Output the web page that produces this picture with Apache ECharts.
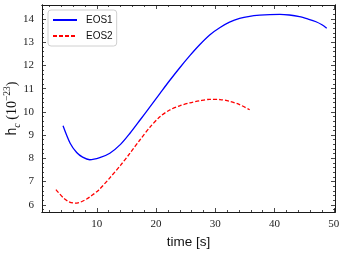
<!DOCTYPE html>
<html><head><meta charset="utf-8">
<script src="https://cdn.jsdelivr.net/npm/echarts@6/dist/echarts.min.js"></script>
<style>html,body{margin:0;padding:0;background:#fff}#c{width:346px;height:253px}</style>
</head><body><div id="c"></div>
<script>
// EOS1 (blue solid)
const eos1Time = [4.3, 5.5, 6.6, 7.6, 8.8, 10.5, 12.2, 14.0, 15.6, 17.3, 19.0, 20.7, 22.3, 24.0, 25.7, 27.4, 29.1, 30.8, 32.4, 34.1, 35.8, 37.5, 39.2, 40.9, 42.5, 44.2, 45.6, 47.0, 48.0, 48.8];
const eos1Hc   = [9.40, 8.65, 8.25, 8.05, 7.94, 8.03, 8.22, 8.60, 9.08, 9.65, 10.23, 10.81, 11.35, 11.90, 12.42, 12.90, 13.32, 13.63, 13.86, 14.02, 14.11, 14.16, 14.19, 14.20, 14.17, 14.10, 14.00, 13.88, 13.75, 13.60];
// EOS2 (red dashed)
const eos2Time = [3.1, 4.4, 5.3, 6.35, 7.3, 8.3, 9.0, 10.3, 12.2, 14.0, 15.6, 17.3, 19.0, 20.7, 22.3, 24.0, 25.7, 27.4, 29.1, 30.8, 32.4, 34.1, 35.8];
const eos2Hc   = [6.65, 6.29, 6.13, 6.07, 6.12, 6.25, 6.37, 6.63, 7.16, 7.70, 8.22, 8.80, 9.35, 9.80, 10.08, 10.26, 10.39, 10.48, 10.54, 10.53, 10.46, 10.31, 10.09];

const xTickLabels = [10, 20, 30, 40, 50];
const yTickLabels = [6, 7, 8, 9, 10, 11, 12, 13, 14];
const xRange = [0.75, 50.2];
const yRange = [5.69, 14.6];

const xMinor = []; for (let v = 2; v <= 50; v += 2) if (v % 10) xMinor.push(v);
const yMinor = []; for (let i = 29; i <= 73; i++) { if (i % 5) yMinor.push(+(i * 0.2).toFixed(1)); }

const lineC = '#1a1a1a';
const tickFont = { fontFamily: 'Liberation Serif', fontSize: 11, color: '#222' };

function xAx(pos, ticks, len, showLabel) {
  return {
    type: 'value', position: pos, min: xRange[0], max: xRange[1],
    axisLine: { show: true, onZero: false, lineStyle: { color: lineC, width: 1 } },
    axisTick: { show: true, inside: true, length: len, customValues: ticks, lineStyle: { color: lineC, width: 0.8 } },
    axisLabel: showLabel ? Object.assign({ show: true, margin: 7, customValues: ticks }, tickFont) : { show: false },
    splitLine: { show: false },
    name: showLabel ? 'time [s]' : '', nameLocation: 'middle', nameGap: 22,
    nameTextStyle: { fontFamily: 'Liberation Sans', fontSize: 13.5, color: '#111' }
  };
}
function yAx(pos, ticks, len, showLabel) {
  return {
    type: 'value', position: pos, min: yRange[0], max: yRange[1],
    axisLine: { show: true, onZero: false, lineStyle: { color: lineC, width: 1 } },
    axisTick: { show: true, inside: true, length: len, customValues: ticks, lineStyle: { color: lineC, width: 0.8 } },
    axisLabel: showLabel ? Object.assign({ show: true, margin: 8, customValues: ticks }, tickFont) : { show: false },
    splitLine: { show: false },
    name: showLabel ? '{h|h}{c|c}{p| (10}{s|−23}{p|)}' : '',
    nameLocation: 'middle', nameGap: 20, nameRotate: 90, nameMoveOverlap: false,
    nameTextStyle: {
      color: '#111',
      rich: {
        h: { fontFamily: 'Liberation Sans', fontSize: 14, lineHeight: 20, verticalAlign: 'middle', color: '#111' },
        c: { fontFamily: 'Liberation Serif', fontStyle: 'italic', fontSize: 10, lineHeight: 20, verticalAlign: 'bottom', color: '#111' },
        p: { fontFamily: 'Liberation Serif', fontSize: 14, lineHeight: 20, verticalAlign: 'middle', color: '#111' },
        s: { fontFamily: 'Liberation Serif', fontSize: 9.5, lineHeight: 20, verticalAlign: 'top', color: '#111' }
      }
    }
  };
}

const chart = echarts.init(document.getElementById('c'), null, { renderer: 'canvas' });
chart.setOption({
  backgroundColor: '#fff',
  animation: false,
  grid: { left: 42, right: 11, top: 5, bottom: 41, containLabel: false, outerBoundsMode: 'none' },
  legend: {
    left: 48, top: 10, orient: 'vertical',
    data: ['EOS1', 'EOS2'],
    itemWidth: 24, itemHeight: 10, itemGap: 6,
    padding: [5, 4, 5, 4],
    itemStyle: { opacity: 0 },
    borderColor: '#d0d0d0', borderWidth: 1, borderRadius: 3, backgroundColor: '#fff',
    textStyle: { fontFamily: 'Liberation Sans', fontSize: 10, color: '#111', padding: [0, 0, 0, 4] }
  },
  xAxis: [
    xAx('bottom', xTickLabels, 4, true),
    xAx('bottom', xMinor, 2, false),
    xAx('top', xTickLabels, 4, false),
    xAx('top', xMinor, 2, false)
  ],
  yAxis: [
    yAx('left', yTickLabels, 4, true),
    yAx('left', yMinor, 2, false),
    yAx('right', yTickLabels, 4, false),
    yAx('right', yMinor, 2, false)
  ],
  series: [
    {
      name: 'EOS1', type: 'line', xAxisIndex: 0, yAxisIndex: 0,
      data: eos1Time.map((t, i) => [t, eos1Hc[i]]),
      smooth: 0.3, showSymbol: false, symbol: 'none',
      lineStyle: { color: '#0000ff', width: 1.3 }, itemStyle: { color: '#0000ff' }
    },
    {
      name: 'EOS2', type: 'line', xAxisIndex: 0, yAxisIndex: 0,
      data: eos2Time.map((t, i) => [t, eos2Hc[i]]),
      smooth: 0.3, showSymbol: false, symbol: 'none',
      lineStyle: { color: '#ff0000', width: 1.3, type: [4, 2] }, itemStyle: { color: '#ff0000' }
    }
  ]
});
</script>
</body></html>
